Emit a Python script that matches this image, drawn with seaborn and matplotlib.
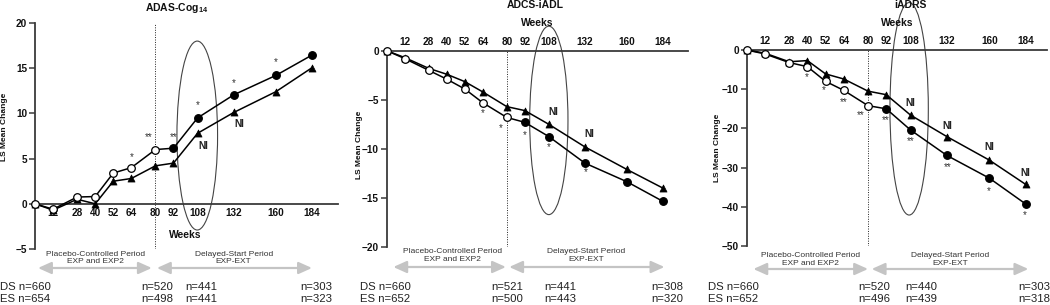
import numpy as np
import pandas as pd
import matplotlib
matplotlib.use("Agg")
import matplotlib.pyplot as plt
import seaborn as sns
from matplotlib.patches import Ellipse
from matplotlib.transforms import blended_transform_factory

sns.set_theme(style="white")
plt.rcParams['font.family'] = ['Liberation Sans', 'DejaVu Sans']
plt.rcParams['mathtext.fontset'] = 'custom'
plt.rcParams['mathtext.rm'] = 'Liberation Sans'
plt.rcParams['mathtext.bf'] = 'Liberation Sans:bold'

# Data
weeks = [0, 12, 28, 40, 52, 64, 80, 92, 108, 132, 160, 184]

adas_ds = [0, -0.6, 0.75, 0.8, 3.4, 4.0, 6.0, 6.15, 9.5, 12.05, 14.2, 16.45]
adas_es = [0, -0.7, 0.5, 0.0, 2.5, 2.8, 4.2, 4.5, 7.8, 10.1, 12.4, 15.05]
iadl_ds = [0, -0.8, -2.0, -2.9, -3.9, -5.3, -6.8, -7.3, -8.75, -11.45, -13.35, -15.35]
iadl_es = [0, -0.7, -1.8, -2.4, -3.15, -4.2, -5.7, -6.1, -7.5, -9.8, -12.1, -14.0]
iadrs_ds = [0, -1.0, -3.2, -4.25, -8.0, -10.3, -14.2, -15.0, -20.4, -26.9, -32.7, -39.3]
iadrs_es = [0, -0.8, -3.0, -2.7, -6.1, -7.4, -10.5, -11.4, -16.6, -22.1, -28.1, -34.3]

adas_stars = [(64, 5.2, '*'), (75.5, 7.4, '**'), (92, 7.4, '**'), (108, 10.9, '*'),
              (132, 13.4, '*'), (160, 15.7, '*')]
iadl_stars = [(64.3, -6.4, '*'), (76, -7.9, '*'), (92, -8.6, '*'), (108, -9.8, '*'),
              (132.6, -12.4, '*')]
iadrs_stars = [(39.6, -7.0, '*'), (51, -10.2, '*'), (63.7, -13.2, '**'), (75.4, -16.6, '**'),
               (91.4, -18.0, '**'), (108, -23.3, '**'), (132.5, -29.9, '**'),
               (159.6, -35.9, '*'), (183.5, -42.1, '*')]

adas_ni = [(111.5, 6.35), (135.7, 8.85)]
iadl_ni = [(111.3, -6.2), (134.8, -8.5)]
iadrs_ni = [(108, -13.4), (132.3, -19.3), (160, -24.7), (183.5, -31.3)]

adas_n = ['n=660', 'n=520', 'n=441', 'n=303'], ['n=654', 'n=498', 'n=441', 'n=323']
iadl_n = ['n=660', 'n=521', 'n=441', 'n=308'], ['n=652', 'n=500', 'n=443', 'n=320']
iadrs_n = ['n=660', 'n=520', 'n=440', 'n=303'], ['n=652', 'n=496', 'n=439', 'n=318']

W, H = 1050, 305
fig = plt.figure(figsize=(W / 100, H / 100), dpi=100)

panels = [
    dict(title='ADAS-Cog$_{\\mathbf{14}}$', ds=adas_ds, es=adas_es, stars=adas_stars, ni=adas_ni,
         n=adas_n, rect=[35, 23, 303, 226], xlim=201.3, ylim=(-5, 20), yticks=[-5, 0, 5, 10, 15, 20],
         top=False, ell=(107.8, 7.55, 27, 20.9), title_xy=(177, 8), weeks_xy=(185, 235),
         ylab=(-0.089, 0.54), txt_y=258, arr_y=268, arrows=((2, 77.6), (81, 184)),
         per_x=(40, 132), nx=(0, 70.9, 100, 176)),
    dict(title='ADCS-iADL', ds=iadl_ds, es=iadl_es, stars=iadl_stars, ni=iadl_ni,
         n=iadl_n, rect=[386.7, 50.7, 301, 196.3], xlim=200.5, ylim=(-20, 0),
         yticks=[-20, -15, -10, -5, 0], top=True, ell=(108, -7.1, 25.5, 19.2),
         title_xy=(535, 5), weeks_xy=(537, 22.7), ylab=(-0.079, 0.52), txt_y=255.5, arr_y=267,
         arrows=((4.4, 79.4), (81.6, 185)), per_x=(44, 133), nx=(360, 69.8, 105, 176)),
    dict(title='iADRS', ds=iadrs_ds, es=iadrs_es, stars=iadrs_stars, ni=iadrs_ni,
         n=iadrs_n, rect=[746.7, 50, 300, 196], xlim=197.8, ylim=(-50, 0),
         yticks=[-50, -40, -30, -20, -10, 0], top=True, ell=(107.1, -15, 25.3, 54.2),
         title_xy=(910, 5), weeks_xy=(897, 22.7), ylab=(-0.086, 0.5), txt_y=259.5, arr_y=269,
         arrows=((4.4, 80), (82.4, 185.7)), per_x=(42, 134), nx=(708, 73.6, 104.4, 179)),
]

axis_col = '#3a3a3a'

for p in panels:
    l, t, w, h = p['rect']
    ax = fig.add_axes([l / W, 1 - (t + h) / H, w / W, h / H])
    ax.set_xlim(0, p['xlim'])
    ax.set_ylim(*p['ylim'])

    # lines
    sns.lineplot(x=weeks, y=p['ds'], color='black', lw=1.1, ax=ax, zorder=3, clip_on=False)
    sns.lineplot(x=weeks, y=p['es'], color='black', lw=1.1, ax=ax, zorder=3, clip_on=False)

    # markers
    wk = np.array(weeks)
    ds = np.array(p['ds'])
    es = np.array(p['es'])
    sns.scatterplot(x=wk, y=es, marker='^', s=26, color='black', edgecolor='black',
                    linewidth=0.5, ax=ax, zorder=4, clip_on=False)
    sns.scatterplot(x=wk[wk <= 80], y=ds[wk <= 80], marker='o', s=30, color='white',
                    edgecolor='black', linewidth=0.9, ax=ax, zorder=5, clip_on=False)
    sns.scatterplot(x=wk[wk > 80], y=ds[wk > 80], marker='o', s=30, color='black',
                    edgecolor='black', linewidth=0.9, ax=ax, zorder=5, clip_on=False)

    # annotations
    for x, y, s in p['stars']:
        ax.text(x, y, s, ha='center', va='center', fontsize=7, color='#333333')
    for x, y in p['ni']:
        ax.text(x, y, 'NI', ha='center', va='center', fontsize=7.2, fontweight='bold',
                color='#222222')

    ex, ey, ew, eh = p['ell']
    ax.add_patch(Ellipse((ex, ey), ew, eh, fill=False, edgecolor='#444444', lw=0.8,
                         clip_on=False, zorder=2))
    ax.axvline(80, color='#222222', ls=(0, (1, 1.5)), lw=0.7, zorder=1)

    # axes styling
    ax.spines['right'].set_visible(False)
    if p['top']:
        ax.xaxis.tick_top()
        ax.spines['bottom'].set_visible(False)
        ax.spines['top'].set_color(axis_col)
        ax.spines['top'].set_linewidth(1.3)
    else:
        ax.spines['top'].set_visible(False)
        ax.spines['bottom'].set_position(('data', 0))
        ax.spines['bottom'].set_color(axis_col)
        ax.spines['bottom'].set_linewidth(1.3)
    ax.spines['left'].set_color(axis_col)
    ax.spines['left'].set_linewidth(1.3)
    ax.set_xticks(weeks[1:])
    ax.set_yticks(p['yticks'])
    ax.tick_params(axis='x', length=0, pad=3, labelsize=7.2)
    ax.tick_params(axis='y', left=True, length=4, width=1.1, color=axis_col, pad=1.5,
                   labelsize=7.2, direction='out')
    for lbl in ax.get_xticklabels() + ax.get_yticklabels():
        lbl.set_fontweight('bold')
        lbl.set_color('#111111')
    ax.grid(False)
    ax.set_ylabel('LS Mean Change', fontsize=6, fontweight='bold', color='#111111')
    ax.yaxis.set_label_coords(*p['ylab'])

    fig.text(p['title_xy'][0] / W, 1 - p['title_xy'][1] / H, p['title'], ha='center',
             va='center', fontsize=7.5, fontweight='bold', color='#111111')
    fig.text(p['weeks_xy'][0] / W, 1 - p['weeks_xy'][1] / H, 'Weeks', ha='center',
             va='center', fontsize=7.4, fontweight='bold', color='#111111')

    # period labels, arrows and n counts below
    tr = blended_transform_factory(ax.transData, fig.transFigure)
    ax.text(p['per_x'][0], 1 - p['txt_y'] / H, 'Placebo-Controlled Period\nEXP and EXP2',
            transform=tr, ha='center', va='center', fontsize=6, color='#333333',
            linespacing=1.1, clip_on=False)
    ax.text(p['per_x'][1], 1 - p['txt_y'] / H, 'Delayed-Start Period\nEXP-EXT',
            transform=tr, ha='center', va='center', fontsize=6, color='#333333',
            linespacing=1.1, clip_on=False)
    for x0, x1 in p['arrows']:
        ax.annotate('', xy=(x1, 1 - p['arr_y'] / H), xytext=(x0, 1 - p['arr_y'] / H),
                    xycoords=tr, textcoords=tr, annotation_clip=False,
                    arrowprops=dict(arrowstyle='<|-|>,head_length=1.0,head_width=0.45',
                                    color='#c4c4c4', lw=1.6, mutation_scale=8,
                                    shrinkA=0, shrinkB=0))
    ds_n, es_n = p['n']
    fig.text(p['nx'][0] / W, 1 - 287 / H, 'DS ' + ds_n[0], ha='left', va='center',
             fontsize=8.2, color='#222222')
    fig.text(p['nx'][0] / W, 1 - 299 / H, 'ES ' + es_n[0], ha='left', va='center',
             fontsize=8.2, color='#222222')
    for i, x in enumerate(p['nx'][1:]):
        ax.text(x, 1 - 287 / H, ds_n[i + 1], transform=tr, ha='left', va='center',
                fontsize=8.2, color='#222222', clip_on=False)
        ax.text(x, 1 - 299 / H, es_n[i + 1], transform=tr, ha='left', va='center',
                fontsize=8.2, color='#222222', clip_on=False)

plt.savefig('out.png', dpi=100)
